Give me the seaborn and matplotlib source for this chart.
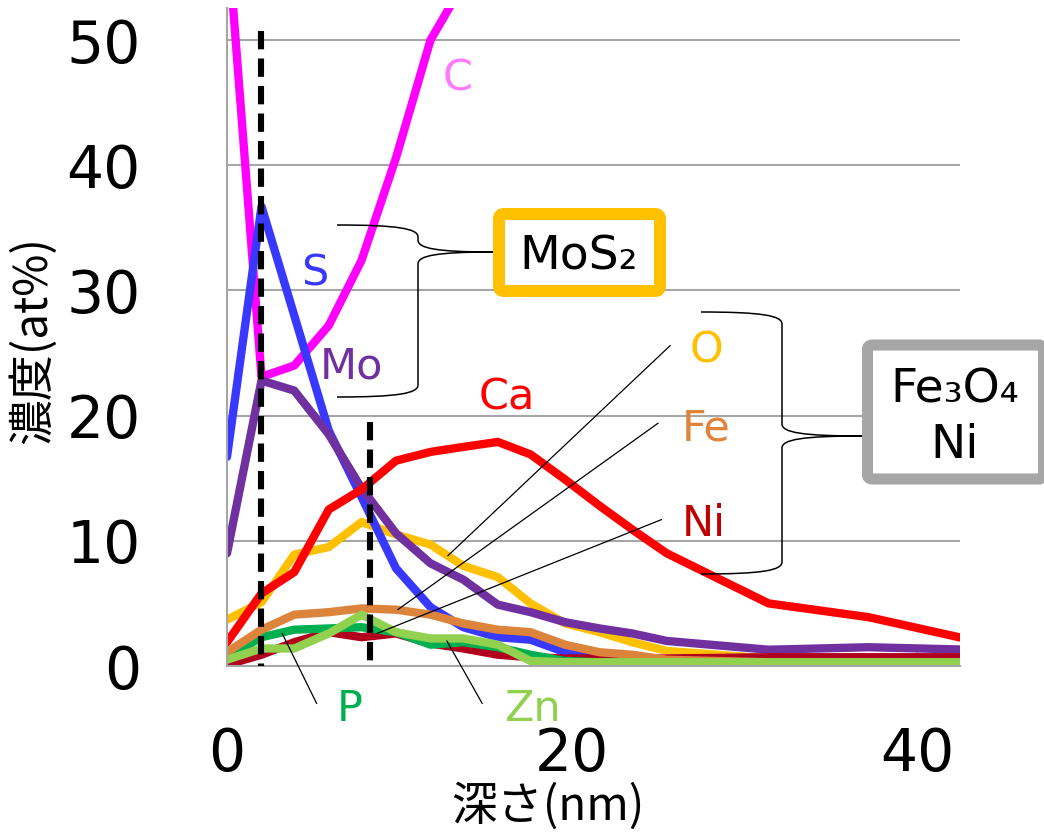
import numpy as np
import pandas as pd
import matplotlib
matplotlib.use("Agg")
import matplotlib.pyplot as plt
import seaborn as sns
from matplotlib.patches import FancyBboxPatch, PathPatch
from matplotlib.path import Path
from matplotlib.transforms import Affine2D

# ---------------- data ----------------
depth = [0, 2.0, 3.9, 5.9, 7.8, 9.8, 11.8, 13.7, 15.7, 17.6, 19.6, 21.6, 23.5, 25.5, 31.4, 37.2, 43.1]
nan = np.nan
C  = [59.0, 23.1, 24.0, 27.2, 32.4, 40.6, 50.0, 54.5, nan, nan, nan, nan, nan, nan, nan, nan, nan]
S  = [16.7, 36.7, 28.0, 18.8, 13.5, 7.8, 4.7, 3.1, 2.3, 2.1, 1.1, 0.9, 0.5, 0.3, 0.3, 0.3, 0.3]
Mo = [9.0, 22.8, 22.0, 18.5, 14.2, 10.6, 8.2, 6.9, 4.9, 4.3, 3.5, 3.0, 2.6, 2.0, 1.3, 1.5, 1.3]
Ca = [1.9, 5.8, 7.5, 12.5, 14.1, 16.4, 17.1, 17.5, 17.9, 16.9, 14.9, 12.8, 10.9, 9.0, 5.0, 3.9, 2.1]
O  = [3.7, 5.1, 8.9, 9.5, 11.5, 10.5, 9.7, 8.0, 7.1, 5.0, 3.4, 2.7, 1.9, 1.2, 0.6, 0.6, 0.5]
Fe = [1.1, 2.9, 4.1, 4.3, 4.6, 4.5, 4.1, 3.4, 2.9, 2.7, 1.7, 1.1, 0.9, 0.5, 0.3, 0.3, 0.3]
Ni = [0.1, 0.9, 1.9, 2.7, 2.3, 2.6, 1.8, 1.4, 0.9, 0.7, 0.6, 0.6, 0.6, 0.6, 0.7, 0.7, 0.7]
P  = [0.7, 2.3, 2.9, 3.0, 3.1, 2.7, 1.7, 1.9, 1.5, 0.9, 0.4, 0.3, 0.3, 0.3, 0.3, 0.3, 0.3]
Zn = [0.5, 1.4, 1.4, 2.6, 4.1, 2.7, 2.2, 2.2, 1.7, 0.4, 0.3, 0.3, 0.3, 0.3, 0.3, 0.3, 0.3]

elements = ["C", "O", "S", "Mo", "Ca", "Ni", "P", "Fe", "Zn"]
series = {"C": C, "O": O, "S": S, "Mo": Mo, "Ca": Ca, "Ni": Ni, "P": P, "Fe": Fe, "Zn": Zn}
line_colors = {"C": "#FF00FF", "O": "#FFC000", "S": "#3838FF", "Mo": "#7030A0",
               "Ca": "#FF0000", "Ni": "#B0001E", "P": "#00B050", "Fe": "#DC843C",
               "Zn": "#92D050"}

label_names  = ["C", "S", "Mo", "Ca", "O", "Fe", "Ni", "P", "Zn"]
label_x      = [13.4, 5.1, 7.2, 16.2, 27.8, 27.8, 27.65, 7.1, 17.7]
label_y      = [47.3, 31.7, 24.3, 21.8, 25.6, 19.3, 11.7, -3.1, -3.1]
label_colors = ["#FF7AFF", "#3838FF", "#7030A0", "#FF0000", "#FFC000", "#E0843C",
                "#C00000", "#00B050", "#92D050"]

# leader lines: (x0, y0, x1, y1) in data units
leaders = [(25.7, 25.6, 12.8, 8.8),   # O
           (25.0, 19.4, 9.9, 4.5),    # Fe
           (25.2, 11.7, 8.7, 2.6),    # Ni
           (3.2, 2.6, 5.2, -3.0),     # P
           (12.75, 2.0, 14.8, -3.0)]  # Zn

marker_depths = [2.0, 8.3]
marker_tops = [50.7, 19.5]

x_ticks = [0, 20, 40]
y_ticks = [0, 10, 20, 30, 40, 50]

rows = []
for name in elements:
    for d, v in zip(depth, series[name]):
        rows.append({"depth": d, "value": v, "element": name})
df = pd.DataFrame(rows).dropna()

# ---------------- figure ----------------
sns.set_theme(style="white")
plt.rcParams["font.family"] = ["DejaVu Sans", "Noto Sans CJK JP"]
plt.rcParams["text.color"] = "black"
JP = ["Noto Sans CJK JP", "DejaVu Sans"]

W, H = 1044, 832
fig = plt.figure(figsize=(W / 100, H / 100), dpi=100)
ax = fig.add_axes([227 / W, (H - 666) / H, (960 - 227) / W, (666 - 8) / H])

sns.lineplot(data=df, x="depth", y="value", hue="element", hue_order=elements,
             palette=line_colors, linewidth=6, legend=False, errorbar=None, ax=ax)

ax.set_xlim(0, 42.5)
ax.set_ylim(0, 52.56)
ax.set_xticks(x_ticks)
ax.set_yticks(y_ticks)
ax.set_xlabel("")
ax.set_ylabel("")
grid_c = "#A6A6A6"
ax.set_axisbelow(True)
ax.yaxis.grid(True, color=grid_c, lw=1.5)
ax.xaxis.grid(False)
for s in ["top", "right"]:
    ax.spines[s].set_visible(False)
for s in ["left", "bottom"]:
    ax.spines[s].set_color(grid_c)
    ax.spines[s].set_linewidth(1.5)
ax.tick_params(axis="x", direction="in", length=15, width=1, color=grid_c,
               pad=43, labelsize=42, labelcolor="black", bottom=True)
ax.tick_params(axis="y", length=0, pad=62, labelsize=42, labelcolor="black")

# dashed markers
for xd, yt in zip(marker_depths, marker_tops):
    ax.plot([xd, xd], [yt, 0], color="black", lw=4.4, dashes=(3, 1.5), zorder=10,
            clip_on=False)

# element labels
for name, x, y, c in zip(label_names, label_x, label_y, label_colors):
    ax.text(x, y, name, color=c, fontsize=31, ha="center", va="center_baseline",
            clip_on=False, zorder=12)

# leader lines
for x0, y0, x1, y1 in leaders:
    ax.plot([x0, x1], [y0, y1], color="black", lw=0.9, clip_on=False, zorder=11)

# axis titles
fig.text(548 / W, 1 - 807 / H, "深さ(nm)", ha="center", va="center", fontsize=33,
         family=JP, color="black")
fig.text(33 / W, 1 - 340 / H, "濃度(at%)", ha="center", va="center", fontsize=33,
         rotation=90, family=JP, color="black")

# pixel transform (x right, y down from top)
pix = Affine2D().scale(1, -1).translate(0, H)


def brace(xl, yt, yb, xm, xt, ytip, r=12):
    verts = [(xl, yt),
             (xl + 0.75 * (xm - xl), yt), (xm, yt + 0.3 * r), (xm, yt + r),
             (xm, ytip - r),
             (xm, ytip - 0.3 * r), (xm + 0.25 * (xt - xm), ytip), (xt, ytip),
             (xm + 0.25 * (xt - xm), ytip), (xm, ytip + 0.3 * r), (xm, ytip + r),
             (xm, yb - r),
             (xm, yb - 0.3 * r), (xl + 0.75 * (xm - xl), yb), (xl, yb)]
    codes = [Path.MOVETO] + [Path.CURVE4] * 3 + [Path.LINETO] + [Path.CURVE4] * 6 + \
            [Path.LINETO] + [Path.CURVE4] * 3
    return PathPatch(Path(verts, codes), transform=pix, fill=False, lw=1.1,
                     edgecolor="black", zorder=20)


fig.add_artist(brace(337, 225, 397, 418, 493, 252))
fig.add_artist(brace(701, 312, 574, 782, 862, 436))

# boxes
box1 = FancyBboxPatch((499, 214), 161, 77, boxstyle="round,pad=0,rounding_size=5",
                      transform=pix, facecolor="white", edgecolor="#FFC000", lw=8.6,
                      zorder=21)
fig.add_artist(box1)
box2 = FancyBboxPatch((867.5, 345), 176, 134, boxstyle="round,pad=0,rounding_size=5",
                      transform=pix, facecolor="white", edgecolor="#A6A6A6", lw=8,
                      zorder=21)
fig.add_artist(box2)

fig.text(579 / W, 1 - 252 / H, "MoS₂", ha="center", va="center_baseline",
         fontsize=34, color="black", zorder=22)
fig.text(955 / W, 1 - 385 / H, "Fe₃O₄", ha="center", va="center_baseline",
         fontsize=34, color="black", zorder=22)
fig.text(955 / W, 1 - 441 / H, "Ni", ha="center", va="center_baseline",
         fontsize=34, color="black", zorder=22)

fig.savefig("out.png", dpi=100)
